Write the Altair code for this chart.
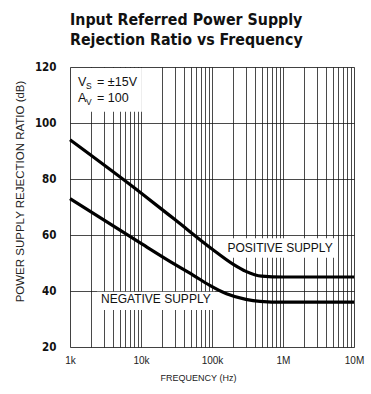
import altair as alt
import pandas as pd

# ---- data ----
pos_freq = [1e3, 1e4, 3e4, 1e5, 2e5, 3e5, 5e5, 1e6, 1e7]
pos_db = [94, 75, 65.5, 55, 49.5, 47, 45.3, 45, 45]
neg_freq = [1e3, 1e4, 3e4, 5.4e4, 9.3e4, 1.6e5, 3e5, 4.75e5, 1e6, 1e7]
neg_db = [73, 57, 49.5, 45.7, 42, 39, 37, 36.3, 36, 36]

x_grid = [d * 10 ** k for k in range(3, 7) for d in range(1, 10)] + [1e7]
y_grid = [20, 30, 40, 50, 60, 70, 80, 90, 100, 110, 120]

curves = pd.DataFrame(
    {"f": pos_freq + neg_freq,
     "db": pos_db + neg_db,
     "s": ["pos"] * len(pos_freq) + ["neg"] * len(neg_freq)}
)

label_expr = ("datum.value == 1000 ? '1k' : datum.value == 10000 ? '10k' : "
              "datum.value == 100000 ? '100k' : datum.value == 1000000 ? '1M' : "
              "datum.value == 10000000 ? '10M' : ''")

COND = "DejaVu Sans Condensed, Roboto, sans-serif"
SANS = "Liberation Sans, Arial, sans-serif"

xs = alt.Scale(type="log", domain=[1e3, 1e7], nice=False)
ys = alt.Scale(domain=[20, 120], nice=False, zero=False)

x_axis = alt.Axis(values=x_grid, labelExpr=label_expr, grid=True, ticks=False,
                  domain=False, labelFlush=False, labelPadding=8,
                  labelFont=SANS, labelFontSize=10, labelColor="#222",
                  title="FREQUENCY (Hz)", titleFont=SANS,
                  titleFontSize=9, titleFontWeight="normal", titlePadding=8,
                  titleColor="#222", titleX=128,
                  gridColor="#111", gridWidth=0.9, gridOpacity=0.85)
y_axis = alt.Axis(values=y_grid, labelExpr="datum.value % 20 == 0 ? datum.label : ''",
                  grid=True, ticks=False, domain=False, labelPadding=14,
                  labelFont=COND, labelFontSize=11.5,
                  labelFontWeight="bold", labelColor="#111",
                  title="POWER SUPPLY REJECTION RATIO (dB)",
                  titleFont=SANS, titleFontSize=11.5,
                  titleFontWeight="normal", titlePadding=9, titleColor="#222",
                  titleY=124,
                  gridColor="#111", gridWidth=0.9, gridOpacity=0.85)

base = alt.Chart(curves)

lines = base.mark_line(color="black", strokeWidth=3.2, interpolate="monotone").encode(
    x=alt.X("f:Q", scale=xs, axis=x_axis),
    y=alt.Y("db:Q", scale=ys, axis=y_axis),
    detail="s:N",
)

# white boxes behind annotations
boxes = pd.DataFrame({
    "f1": [1.05e3, 1.45e5, 2.4e3],
    "f2": [1.03e4, 5.7e6, 1.1e5],
    "d1": [119.6, 51.9, 33.2],
    "d2": [104, 58.8, 39.7],
})
rects = alt.Chart(boxes).mark_rect(color="white").encode(
    x=alt.X("f1:Q", scale=xs), x2="f2:Q",
    y=alt.Y("d1:Q", scale=ys), y2="d2:Q",
)

ann = pd.DataFrame({
    "f": [9.1e5, 1.62e4],
    "db": [55.4, 37.2],
    "t": ["POSITIVE SUPPLY", "NEGATIVE SUPPLY"],
})
ann_text = alt.Chart(ann).mark_text(font=SANS, fontSize=12,
                                    color="#111", align="center", baseline="middle").encode(
    x=alt.X("f:Q", scale=xs), y=alt.Y("db:Q", scale=ys), text="t:N")

cond = pd.DataFrame({
    "f": [1.3e3, 1.3e3],
    "db": [114.6, 109.0],
    "main": ["V", "A"],
    "sub": ["S", "V"],
    "rest": ["= \u00b115V", "= 100"],
})
fs = 12.5
c_main = alt.Chart(cond).mark_text(font=SANS, fontSize=fs, color="#111",
                                   align="left", baseline="middle").encode(
    x=alt.X("f:Q", scale=xs), y=alt.Y("db:Q", scale=ys), text="main:N")
c_sub = alt.Chart(cond).mark_text(font=SANS, fontSize=8.5, color="#111",
                                  align="left", baseline="middle", dx=8, dy=4).encode(
    x=alt.X("f:Q", scale=xs), y=alt.Y("db:Q", scale=ys), text="sub:N")
c_rest = alt.Chart(cond).mark_text(font=SANS, fontSize=fs, color="#111",
                                   align="left", baseline="middle", dx=19).encode(
    x=alt.X("f:Q", scale=xs), y=alt.Y("db:Q", scale=ys), text="rest:N")

chart = alt.layer(rects, lines, ann_text, c_main, c_sub, c_rest).properties(
    width=284, height=280,
    padding={"left": 70, "top": 67, "right": 17, "bottom": 47},
    autosize="none",
    title=alt.TitleParams(
        text=["Input Referred Power Supply", "Rejection Ratio vs Frequency"],
        anchor="start", frame="group", font=COND,
        fontSize=15.8, fontWeight="bold", color="#111", lineHeight=20, offset=12,
    ),
).configure_view(stroke="black", strokeWidth=1.6).configure(background="white")

chart.save("out.html", embed_options={"renderer": "svg", "actions": False})
